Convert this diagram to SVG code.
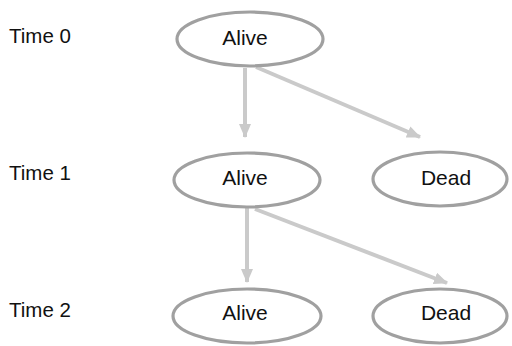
<svg xmlns="http://www.w3.org/2000/svg" width="512" height="346" viewBox="0 0 512 346">
  <style>
    .node { fill: #ffffff; stroke: #a0a0a0; stroke-width: 3.2; }
    .label { font-family: "Liberation Sans", Arial, sans-serif; font-size: 21px; fill: #111111; text-anchor: middle; }
    .time { font-family: "Liberation Sans", Arial, sans-serif; font-size: 20.5px; fill: #111111; }
    .edge { stroke: #cacaca; stroke-width: 4; fill: none; marker-end: url(#head); }
  </style>
  <defs>
    <marker id="head" markerUnits="userSpaceOnUse" markerWidth="14" markerHeight="12" refX="13" refY="6" orient="auto">
      <path d="M0,0 L14,6 L0,12 Z" fill="#cacaca"/>
    </marker>
  </defs>
  <rect width="512" height="346" fill="#ffffff"/>

  <g id="time-labels">
    <text class="time" x="9" y="43">Time 0</text>
    <text class="time" x="9" y="180">Time 1</text>
    <text class="time" x="9" y="317">Time 2</text>
  </g>

  <g id="connectors">
    <line class="edge" x1="245" y1="68" x2="245" y2="137"/>
    <line class="edge" x1="256" y1="67" x2="420" y2="137"/>
    <line class="edge" x1="247" y1="208" x2="247" y2="282"/>
    <line class="edge" x1="255" y1="209" x2="447" y2="283"/>
  </g>

  <g id="alive-0">
    <ellipse class="node" cx="250" cy="39" rx="73" ry="27"/>
    <text class="label" x="245" y="45">Alive</text>
  </g>
  <g id="alive-1">
    <ellipse class="node" cx="247" cy="180" rx="73" ry="27"/>
    <text class="label" x="245" y="185">Alive</text>
  </g>
  <g id="dead-1">
    <ellipse class="node" cx="440" cy="179" rx="67" ry="27"/>
    <text class="label" x="446" y="185">Dead</text>
  </g>
  <g id="alive-2">
    <ellipse class="node" cx="247" cy="316" rx="74" ry="27"/>
    <text class="label" x="245" y="320">Alive</text>
  </g>
  <g id="dead-2">
    <ellipse class="node" cx="440" cy="316" rx="67" ry="27"/>
    <text class="label" x="446" y="320">Dead</text>
  </g>
</svg>
